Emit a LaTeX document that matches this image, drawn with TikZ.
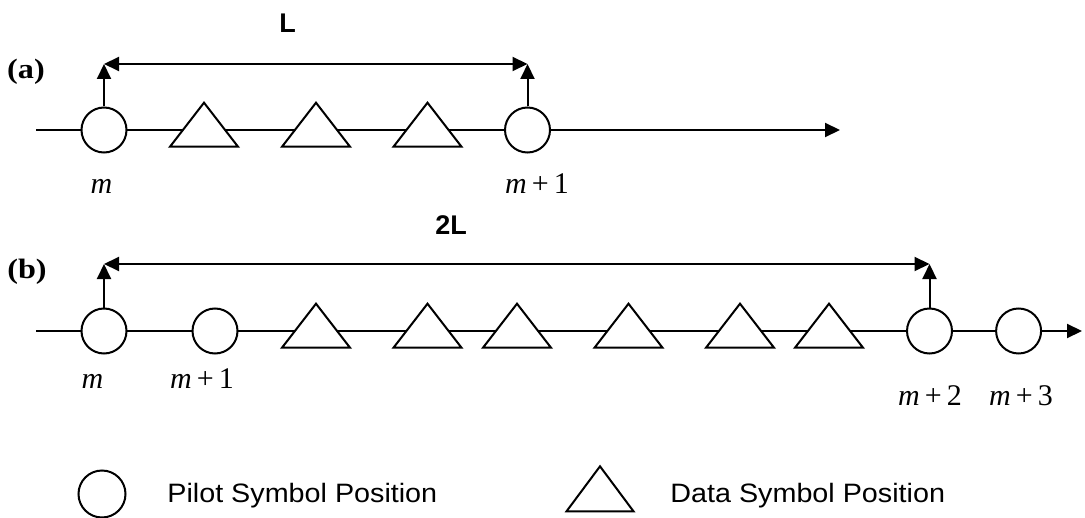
\documentclass[tikz,border=0pt]{standalone}
\usepackage{fontspec}
\setmainfont{Liberation Serif}
\setsansfont{Liberation Sans}
\usepackage{graphicx}
\usetikzlibrary{arrows.meta,shapes.geometric}
\newcommand{\sxs}[1]{\scalebox{1.08}[1]{#1}}
\newcommand{\mm}{\textit{m}}
\tikzset{
  ln/.style={line width=1pt},
  pilot/.style={circle, draw, line width=1pt, fill=white, minimum size=22.5pt, inner sep=0pt},
  datasym/.style={isosceles triangle, isosceles triangle stretches, shape border rotate=90,
     draw, line width=1pt, fill=white, minimum width=34pt, minimum height=22pt, inner sep=0pt},
  tipend/.style={-{Triangle[length=7.5pt,width=7pt]}},
  tipboth/.style={{Triangle[length=7.5pt,width=7pt]}-{Triangle[length=7.5pt,width=7pt]}},
  mlab/.style={anchor=base, inner sep=0pt, font=\fontsize{15}{18}\selectfont},
  plab/.style={inner sep=0pt, font=\fontsize{14}{16}\selectfont\bfseries},
  dimlab/.style={inner sep=0pt, font=\fontsize{13.5}{16}\selectfont\sffamily\bfseries},
  leglab/.style={anchor=base west, inner sep=0pt, font=\fontsize{13.3}{16}\selectfont\sffamily},
}
\begin{document}
\begin{tikzpicture}[x=0.5pt,y=-0.5pt]
\useasboundingbox (0,0) rectangle (1085,518);
% ---------- (a) ----------
\coordinate (as) at (36,130);
\coordinate (ae) at (840,130);
\draw[ln,tipend] (as) -- (ae);
\node[pilot] (am) at (104,130) {};
\node[datasym] (at1) at (204,130) {};
\node[datasym] (at2) at (316,130) {};
\node[datasym] (at3) at (427.5,130) {};
\node[pilot] (am1) at (527.5,130) {};
\coordinate (aL) at (104,64);
\coordinate (aR) at (527.5,64);
\draw[ln,tipend] (am.north) -- (aL);
\draw[ln,tipend] (am1.north) -- (aR);
\draw[ln,tipboth] (aL) -- (aR);
\node[dimlab] (lblL) at (287.5,23) {L};
\node[plab] (lbla) at (26,72) {\scalebox{1.15}[1]{(a)}};
\node[mlab] (ma0) at (101.5,193) {\mm};
\node[mlab] (ma1) at (537,193) {\mm\,+\,1};
% ---------- (b) ----------
\coordinate (bs) at (36,331);
\coordinate (be) at (1082,331);
\draw[ln,tipend] (bs) -- (be);
\node[pilot] (bm) at (104,331) {};
\node[pilot] (bm1) at (215,331) {};
\node[datasym] (bt1) at (316,331) {};
\node[datasym] (bt2) at (427.5,331) {};
\node[datasym] (bt3) at (517,331) {};
\node[datasym] (bt4) at (628.5,331) {};
\node[datasym] (bt5) at (740,331) {};
\node[datasym] (bt6) at (829,331) {};
\node[pilot] (bm2) at (929.5,331) {};
\node[pilot] (bm3) at (1018.6,331) {};
\coordinate (bL) at (104,264);
\coordinate (bR) at (929.5,264);
\draw[ln,tipend] (bm.north) -- (bL);
\draw[ln,tipend] (bm2.north) -- (bR);
\draw[ln,tipboth] (bL) -- (bR);
\node[dimlab] (lbl2L) at (451,225) {2L};
\node[plab] (lblb) at (27,272) {\scalebox{1.15}[1]{(b)}};
\node[mlab] (mb0) at (92.5,388) {\mm};
\node[mlab] (mb1) at (202,388) {\mm\,+\,1};
\node[mlab] (mb2) at (930,405) {\mm\,+\,2};
\node[mlab] (mb3) at (1021,405) {\mm\,+\,3};
% ---------- legend ----------
\node[pilot, minimum size=23.5pt] (lc) at (102,494) {};
\node[leglab] (lct) at (167,502) {\sxs{Pilot Symbol Position}};
\node[datasym, minimum width=33.5pt, minimum height=22.5pt] (lt) at (600,494.5) {};
\node[leglab] (ltt) at (670,502) {\sxs{Data Symbol Position}};
\end{tikzpicture}
\end{document}
